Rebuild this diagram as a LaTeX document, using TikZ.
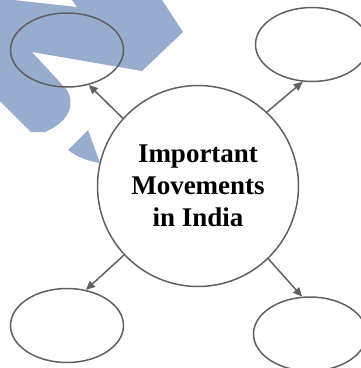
\documentclass[tikz,border=0pt]{standalone}
\usepackage{fontspec}
\setmainfont{Liberation Serif}
\usetikzlibrary{shapes.geometric,arrows.meta}
\definecolor{wmblue}{RGB}{151,172,206}
\definecolor{linegray}{RGB}{96,96,96}

\begin{document}
\begin{tikzpicture}[x=1pt,y=-1pt,
		bubble/.style={draw=linegray,line width=1.5pt,ellipse,minimum width=113pt,minimum height=74pt,inner sep=0pt},
		hub/.style={draw=linegray,line width=1.5pt,circle,minimum size=201pt,inner sep=0pt,align=center,
			font=\bfseries\fontsize{27}{32}\selectfont},
		link/.style={draw=linegray,line width=1.5pt,-{Triangle[length=9pt,width=8pt]}}]
		\useasboundingbox (0,0) rectangle (360,368);
		
		% watermark behind
		\fill[wmblue] (0,0) -- (13,0) -- (77,7) -- (72,0) -- (162,0) -- (183,32) -- (142,71) -- (32,52) -- (67,90)
			.. controls (74,101) and (73,120) .. (45,132) -- (31,132) -- (0,101) -- cycle;
		\fill[wmblue] (68,150) -- (88,130) -- (100,163) .. controls (86,161) and (76,156) .. (68,150) -- cycle;
		
		\node[hub] (Hub) at (198,186) {Important\\Movements\\in India};
		\node[bubble] (TL) at (67,50) {};
		\node[bubble] (TR) at (312,44.5) {};
		\node[bubble] (BL) at (67,325.5) {};
		\node[bubble] (BR) at (310,334) {};
		
		\draw[link] (Hub.138) -- (TL.302);
		\draw[link] (Hub.47) -- (TR.256);
		\draw[link] (Hub.223) -- (BL.62);
		\draw[link] (Hub.314) -- (BR.102);
		\end{tikzpicture}
\end{document}
